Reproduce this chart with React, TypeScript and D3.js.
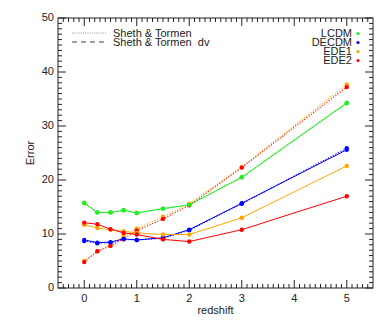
import React from "react";
import * as d3 from "d3";

const redshift = [0, 0.25, 0.5, 0.75, 1, 1.5, 2, 3, 5];
const models = ["LCDM", "DECDM", "EDE1", "EDE2"];
const colors = ["#22ee22", "#0000ff", "#ffa500", "#ff0000"];

// Sheth & Tormen dv (solid in the picture)
const lcdmDv = [15.7, 14.0, 14.0, 14.4, 13.9, 14.7, 15.4, 20.5, 34.3];
const decdmDv = [8.9, 8.4, 8.5, 9.1, 8.9, 9.3, 10.8, 15.7, 25.6];
const ede1Dv = [11.7, 11.1, 10.8, 10.5, 10.2, 9.9, 9.9, 13.0, 22.6];
const ede2Dv = [12.1, 11.8, 10.9, 10.2, 9.9, 9.0, 8.6, 10.8, 17.0];

// Sheth & Tormen (dotted)
const lcdmST = [15.8, 14.0, 14.0, 14.4, 13.9, 14.7, 15.4, 20.5, 34.2];
const decdmST = [8.7, 8.3, 8.4, 9.0, 8.9, 9.2, 10.7, 15.6, 25.9];
const ede1ST = [5.0, 6.8, 7.9, 9.6, 11.0, 13.2, 15.6, 22.4, 37.7];
const ede2ST = [4.8, 6.8, 7.8, 9.1, 10.6, 12.8, 15.3, 22.3, 37.2];

const xTicks = [0, 1, 2, 3, 4, 5];
const yTicks = [0, 10, 20, 30, 40, 50];

const W = 390;
const H = 325;
const left = 58;
const right = 373;
const top = 18;
const bottom = 288;
const font = "'Liberation Sans', Arial, sans-serif";

const App = () => {
  const x = d3.scaleLinear().domain([-0.5, 5.5]).range([left, right]);
  const y = d3.scaleLinear().domain([0, 50]).range([bottom, top]);

  const line = d3
    .line<number>()
    .x((d, i) => x(redshift[i]))
    .y(d => y(d));

  const dvSeries = [lcdmDv, decdmDv, ede1Dv, ede2Dv];
  const stSeries = [lcdmST, decdmST, ede1ST, ede2ST];

  const xMinor = d3.range(-4, 55).map(v => v / 10).filter(v => v % 1 !== 0);
  const yMinor = d3.range(1, 50).filter(v => v % 10 !== 0);

  return (
    <svg
      width={W}
      height={H}
      style={{ position: "absolute", left: 0, top: 0, background: "#fff" }}
      fontFamily={font}
    >
      {/* dotted Sheth & Tormen */}
      {stSeries.map((s, k) => (
        <g key={"st" + k}>
          <path
            d={line(s) || ""}
            fill="none"
            stroke={colors[k]}
            strokeWidth={1.2}
            strokeDasharray="1.2,1.6"
            opacity={0.85}
          />
          {s.map((v, i) => (
            <circle key={i} cx={x(redshift[i])} cy={y(v)} r={2.2} fill={colors[k]} />
          ))}
        </g>
      ))}
      {/* solid dv */}
      {dvSeries.map((s, k) => (
        <g key={"dv" + k}>
          <path d={line(s) || ""} fill="none" stroke={colors[k]} strokeWidth={1} />
          {s.map((v, i) => (
            <circle key={i} cx={x(redshift[i])} cy={y(v)} r={2.2} fill={colors[k]} />
          ))}
        </g>
      ))}

      {/* frame */}
      <rect
        x={left}
        y={top}
        width={right - left}
        height={bottom - top}
        fill="none"
        stroke="#222"
        strokeWidth={1}
      />
      {xTicks.map(t => (
        <g key={"xt" + t}>
          <line x1={x(t)} x2={x(t)} y1={bottom} y2={bottom - 8} stroke="#222" />
          <line x1={x(t)} x2={x(t)} y1={top} y2={top + 8} stroke="#222" />
          <text x={x(t)} y={302} fontSize={11} textAnchor="middle" fill="#222">
            {t}
          </text>
        </g>
      ))}
      {xMinor.map(t => (
        <g key={"xm" + t}>
          <line x1={x(t)} x2={x(t)} y1={bottom} y2={bottom - 4} stroke="#222" />
          <line x1={x(t)} x2={x(t)} y1={top} y2={top + 4} stroke="#222" />
        </g>
      ))}
      {yTicks.map(t => (
        <g key={"yt" + t}>
          <line x1={left} x2={left + 8} y1={y(t)} y2={y(t)} stroke="#222" />
          <line x1={right} x2={right - 8} y1={y(t)} y2={y(t)} stroke="#222" />
          <text x={54} y={y(t) + 3} fontSize={11} textAnchor="end" fill="#222">
            {t}
          </text>
        </g>
      ))}
      {yMinor.map(t => (
        <g key={"ym" + t}>
          <line x1={left} x2={left + 4} y1={y(t)} y2={y(t)} stroke="#222" />
          <line x1={right} x2={right - 4} y1={y(t)} y2={y(t)} stroke="#222" />
        </g>
      ))}

      <text x={(left + right) / 2} y={314} fontSize={11} textAnchor="middle" fill="#222">
        redshift
      </text>
      <text
        transform={`translate(34,${(top + bottom) / 2}) rotate(-90)`}
        fontSize={11}
        textAnchor="middle"
        fill="#222"
      >
        Error
      </text>

      {/* left legend */}
      <line x1={72} x2={107} y1={33} y2={33} stroke="#999" strokeDasharray="1,1.2" />
      <text x={113} y={37} fontSize={11} fill="#222">
        Sheth &amp; Tormen
      </text>
      <line x1={72} x2={107} y1={42} y2={42} stroke="#444" strokeDasharray="5,4" />
      <text x={113} y={46} fontSize={11} fill="#222">
        {"Sheth & Tormen\u00a0\u00a0dv"}
      </text>

      {/* right legend */}
      {models.map((m, k) => (
        <g key={m}>
          <text x={352} y={37 + k * 9} fontSize={11} textAnchor="end" fill="#222">
            {m}
          </text>
          <circle cx={358} cy={33.5 + k * 9} r={1.6} fill={colors[k]} />
        </g>
      ))}
    </svg>
  );
};

export default App;
